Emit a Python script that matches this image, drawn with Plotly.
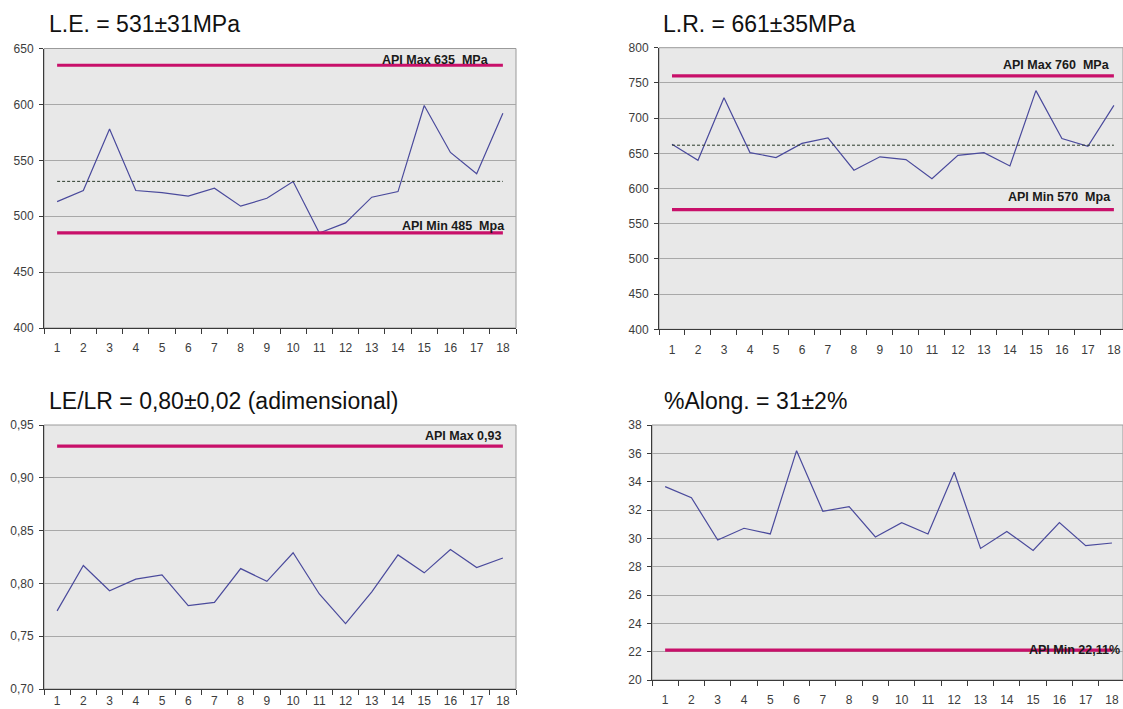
import numpy as np
import plotly.graph_objects as go

# sample numbers along the horizontal axis
samples = list(range(1, 19))

# yield strength (MPa)
le_values = [513, 523, 578, 523, 521, 518, 525, 509, 516, 531,
             485, 494, 517, 522, 599, 557, 538, 592]
# tensile strength (MPa)
lr_values = [663, 640, 729, 651, 644, 664, 672, 626, 645, 641,
             614, 647, 651, 632, 739, 671, 660, 718]
# LE/LR ratio
ratio_values = [0.774, 0.817, 0.793, 0.804, 0.808, 0.779, 0.782, 0.814, 0.802, 0.829,
                0.790, 0.762, 0.792, 0.827, 0.810, 0.832, 0.815, 0.824]
# elongation (%)
elong_values = [33.65, 32.87, 29.88, 30.71, 30.31, 36.19, 31.91, 32.24, 30.10, 31.11,
                30.31, 34.66, 29.29, 30.49, 29.15, 31.11, 29.48, 29.67]

# API specification limits
le_api_max, le_api_min = 635, 485
lr_api_max, lr_api_min = 760, 570
ratio_api_max = 0.93
elong_api_min = 22.11

titles = ["L.E. = 531±31MPa", "L.R. = 661±35MPa",
          "LE/LR = 0,80±0,02 (adimensional)", "%Along. = 31±2%"]
limit_labels = ["API Max 635  MPa", "API Min 485  Mpa",
                "API Max 760  MPa", "API Min 570  Mpa",
                "API Max 0,93", "API Min 22,11%"]

W, H = 1123, 709
SERIES = "#4a4a9c"
LIMIT = "#c8106a"
PLOT_BG = "#e8e8e8"
GRID = "#a8a8a8"
AXIS = "#3a3a3a"
TICKFONT = dict(family="Liberation Sans, Arial, sans-serif", size=12, color="#3c3c3c")
TITLEFONT = dict(family="Liberation Sans, Arial, sans-serif", size=23, color="#111111")
LABELFONT = dict(family="Liberation Sans Narrow, Arial Narrow, Liberation Sans, Arial", size=12.5,
                 color="#1a1a1a")


def px(x):
    return x / W


def py(y):
    return 1 - y / H


fig = go.Figure()

# panel geometry (pixel box) and axis settings
panels = [
    dict(box=(44, 516, 48.5, 328), xr=[0.5, 18.5], yr=[400, 650], dt=50, fmt=None,
         data=le_values, n="1", xstand=9),
    dict(box=(659, W, 47.7, 329.3), xr=[0.5, 18.35], yr=[400, 800], dt=50, fmt=None,
         data=lr_values, n="2", xstand=9),
    dict(box=(44, 516, 425, 689), xr=[0.5, 18.5], yr=[0.70, 0.95], dt=0.05, fmt=".2f",
         data=ratio_values, n="3", xstand=1),
    dict(box=(652, W, 425, 680), xr=[0.5, 18.42], yr=[20, 38], dt=2, fmt=None,
         data=elong_values, n="4", xstand=9),
]

for p in panels:
    x0, x1, y0, y1 = p["box"]
    n = p["n"]
    xa = "xaxis" if n == "1" else "xaxis" + n
    ya = "yaxis" if n == "1" else "yaxis" + n
    xref = "x" if n == "1" else "x" + n
    yref = "y" if n == "1" else "y" + n
    fig.update_layout(**{
        xa: dict(domain=[px(x0), px(x1)], anchor=yref, range=p["xr"], automargin=False,
                 tickmode="array", tickvals=samples, ticktext=[str(s) for s in samples],
                 ticks="", showgrid=False, zeroline=False,
                 showline=True, linecolor=AXIS, linewidth=1,
                 tickfont=TICKFONT, ticklabelstandoff=p["xstand"],
                 minor=dict(tickmode="array",
                            tickvals=[s - 0.5 for s in samples] + [samples[-1] + 0.5],
                            ticks="outside", ticklen=5, tickcolor=AXIS, tickwidth=1,
                            showgrid=False),
                 fixedrange=True),
        ya: dict(domain=[py(y1), py(y0)], anchor=xref, range=p["yr"], automargin=False,
                 tickmode="linear", tick0=p["yr"][0], dtick=p["dt"],
                 tickformat=p["fmt"], ticks="outside", ticklen=4, tickcolor=AXIS,
                 showgrid=True, gridcolor=GRID, gridwidth=1, zeroline=False,
                 showline=True, linecolor=AXIS, linewidth=1,
                 tickfont=TICKFONT, ticklabelstandoff=3, fixedrange=True),
    })
    # plot area background and light border
    fig.add_shape(type="rect", xref=xref + " domain", yref=yref + " domain",
                  x0=0, x1=1, y0=0, y1=1, fillcolor=PLOT_BG,
                  line=dict(color="#9a9a9a", width=1), layer="below")
    # measured series
    fig.add_trace(go.Scatter(x=samples, y=p["data"], mode="lines",
                             line=dict(color=SERIES, width=1.2),
                             xaxis=xref, yaxis=yref, showlegend=False,
                             hoverinfo="skip"))


def limit_line(value, n):
    xref = "x" if n == "1" else "x" + n
    yref = "y" if n == "1" else "y" + n
    fig.add_trace(go.Scatter(x=[samples[0], samples[-1]], y=[value, value], mode="lines",
                             line=dict(color=LIMIT, width=3.2),
                             xaxis=xref, yaxis=yref, showlegend=False, hoverinfo="skip"))


def mean_line(values, n):
    xref = "x" if n == "1" else "x" + n
    yref = "y" if n == "1" else "y" + n
    m = float(np.mean(values))
    fig.add_trace(go.Scatter(x=[samples[0], samples[-1]], y=[m, m], mode="lines",
                             line=dict(color="#2b3a2b", width=1, dash="3px,2px"),
                             xaxis=xref, yaxis=yref, showlegend=False, hoverinfo="skip"))


mean_line(le_values, "1")
mean_line(lr_values, "2")
limit_line(le_api_max, "1")
limit_line(le_api_min, "1")
limit_line(lr_api_max, "2")
limit_line(lr_api_min, "2")
limit_line(ratio_api_max, "3")
limit_line(elong_api_min, "4")

# limit captions: (text, x edge in px, value, axis, shift, anchors)
captions = [
    (limit_labels[0], 490, le_api_max, "y", -3, "right", "bottom"),
    (limit_labels[1], 506, le_api_min, "y", -1, "right", "bottom"),
    (limit_labels[2], 1111, lr_api_max, "y2", 3, "right", "bottom"),
    (limit_labels[3], 1112, lr_api_min, "y2", 5, "right", "bottom"),
    (limit_labels[4], 502, ratio_api_max, "y3", 2, "right", "bottom"),
    (limit_labels[5], 1121, elong_api_min, "y4", 0, "right", "middle"),
]
for text, xpix, val, yref, shift, xanc, yanc in captions:
    fig.add_annotation(text="<b>" + text + "</b>", xref="paper", x=px(xpix), xanchor=xanc,
                       yref=yref, y=val, yanchor=yanc, yshift=shift, showarrow=False,
                       font=LABELFONT, borderpad=0)

# panel headings
heading_pos = [(48, 38), (662, 38), (48, 415), (663, 415)]
for t, (xp, yp) in zip(titles, heading_pos):
    fig.add_annotation(text=t, xref="paper", yref="paper", x=px(xp), y=py(yp),
                       xanchor="left", yanchor="bottom", showarrow=False,
                       font=TITLEFONT, borderpad=0)

fig.update_layout(width=W, height=H, margin=dict(l=0, r=0, t=0, b=0, autoexpand=False),
                  paper_bgcolor="white", plot_bgcolor="rgba(0,0,0,0)",
                  separators=",.", showlegend=False)

fig.write_html("out.html", config=dict(displayModeBar=False))
